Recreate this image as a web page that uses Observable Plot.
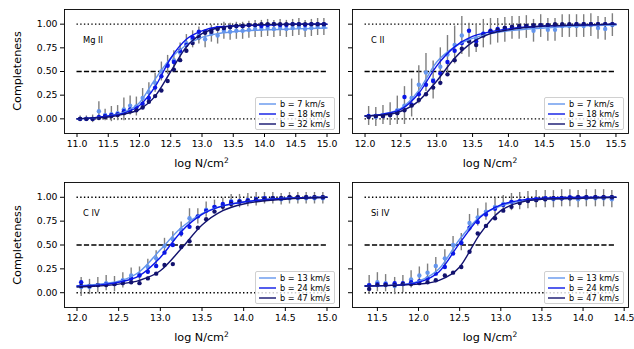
<!DOCTYPE html>
<html><head><meta charset="utf-8">
<script src="https://cdn.jsdelivr.net/npm/d3@7"></script>
<script src="https://cdn.jsdelivr.net/npm/@observablehq/plot@0.6"></script>
<style>
body{margin:0;background:#fff;}
#wrap{position:relative;width:634px;height:349px;font-family:"DejaVu Sans",sans-serif;color:#000;overflow:hidden;}
.pl{position:absolute;}
.lab{position:absolute;font-size:11.2px;white-space:nowrap;transform:translate(-50%,-50%);}
.ylab{position:absolute;font-size:11.2px;white-space:nowrap;transform:translate(-50%,-50%) rotate(-90deg);}
.ion{position:absolute;font-size:8.3px;white-space:nowrap;transform:translateY(-50%);}
.leg{position:absolute;width:80px;height:33px;border:1px solid #d0d0d0;border-radius:2px;background:rgba(255,255,255,0.8);box-sizing:border-box;}
.row{position:absolute;left:0;height:10px;width:100%;font-size:8.2px;line-height:10px;}
.row svg{position:absolute;left:3px;top:0;}
.row span{position:absolute;left:24px;top:0;}
</style>
</head><body>
<div id="wrap"></div>
<script>
// ---------- data ----------
const ionNames = ["Mg II", "C II", "C IV", "Si IV"];
const bMgII = ["b = 7 km/s", "b = 18 km/s", "b = 32 km/s"];
const bCII  = ["b = 7 km/s", "b = 18 km/s", "b = 32 km/s"];
const bCIV  = ["b = 13 km/s", "b = 24 km/s", "b = 47 km/s"];
const bSiIV = ["b = 13 km/s", "b = 24 km/s", "b = 47 km/s"];

const yTicks = [0, 0.25, 0.5, 0.75, 1.0];
const xTicksMgII = [11.0, 11.5, 12.0, 12.5, 13.0, 13.5, 14.0, 14.5, 15.0];
const xTicksCII  = [12.0, 12.5, 13.0, 13.5, 14.0, 14.5, 15.0, 15.5];
const xTicksCIV  = [12.0, 12.5, 13.0, 13.5, 14.0, 14.5, 15.0];
const xTicksSiIV = [11.5, 12.0, 12.5, 13.0, 13.5, 14.0, 14.5];

// reference line spans (log N)
const spanMgII = [11.0, 15.0];
const spanCII  = [12.0, 15.5];
const spanCIV  = [12.0, 15.0];
const spanSiIV = [11.35, 14.4];

// Mg II
const xMgII = [11.05,11.15,11.25,11.35,11.45,11.55,11.65,11.75,11.85,11.95,12.05,12.15,12.25,12.35,12.45,12.55,12.65,12.75,12.85,12.95,13.05,13.15,13.25,13.35,13.45,13.55,13.65,13.75,13.85,13.95,14.05,14.15,14.25,14.35,14.45,14.55,14.65,14.75,14.85,14.95];
const mg_b7  = [0.00,0.00,0.00,0.08,0.04,0.05,0.06,0.10,0.14,0.13,0.22,0.28,0.38,0.50,0.57,0.62,0.70,0.80,0.84,0.88,0.84,0.90,0.88,0.93,0.92,0.93,0.93,0.94,0.95,0.95,0.96,0.95,0.96,0.95,0.96,0.97,0.95,0.96,0.97,0.97];
const mg_b18 = [0.00,0.00,0.00,0.02,0.03,0.04,0.05,0.08,0.10,0.12,0.16,0.22,0.33,0.45,0.56,0.60,0.72,0.78,0.86,0.92,0.92,0.94,0.96,0.96,0.97,0.98,0.98,0.99,0.99,0.98,0.99,1.00,0.99,0.99,1.00,1.00,0.99,1.00,1.00,1.00];
const mg_b32 = [0.00,0.00,0.00,0.01,0.02,0.03,0.04,0.06,0.08,0.09,0.12,0.18,0.24,0.30,0.40,0.52,0.62,0.72,0.80,0.86,0.91,0.92,0.95,0.96,0.97,0.98,0.98,0.99,0.99,1.00,1.00,1.00,1.00,1.00,1.00,1.00,1.00,1.00,1.00,1.00];
const mg_err = [0.03,0.03,0.04,0.10,0.06,0.08,0.08,0.12,0.10,0.10,0.10,0.10,0.10,0.10,0.10,0.10,0.10,0.09,0.09,0.09,0.09,0.09,0.09,0.09,0.09,0.09,0.09,0.09,0.09,0.09,0.09,0.09,0.09,0.09,0.09,0.09,0.09,0.09,0.09,0.09];
const fitXMgII = [11.0,11.25,11.5,11.75,12.0,12.25,12.5,12.75,13.0,13.25,13.5,14.0,14.5,15.0];
const fitMg_b7  = [0.00,0.01,0.03,0.07,0.17,0.42,0.64,0.78,0.86,0.90,0.92,0.94,0.95,0.96];
const fitMg_b18 = [0.00,0.01,0.03,0.06,0.14,0.34,0.64,0.84,0.93,0.97,0.98,0.99,1.00,1.00];
const fitMg_b32 = [0.00,0.01,0.02,0.05,0.10,0.24,0.50,0.76,0.90,0.96,0.98,0.995,1.00,1.00];

// C II
const xCII = [12.05,12.15,12.25,12.35,12.45,12.55,12.65,12.75,12.85,12.95,13.05,13.15,13.25,13.35,13.45,13.55,13.65,13.75,13.85,13.95,14.05,14.15,14.25,14.35,14.45,14.55,14.65,14.75,14.85,14.95,15.05,15.15,15.25,15.35,15.45];
const c2_b7  = [0.03,0.02,0.04,0.05,0.09,0.14,0.22,0.36,0.49,0.41,0.55,0.68,0.78,0.88,0.83,0.85,0.90,0.92,0.93,0.94,0.96,0.96,0.97,0.93,0.98,0.94,0.94,0.98,0.98,0.98,0.98,0.99,0.96,0.95,0.99];
const c2_b18 = [0.03,0.03,0.03,0.04,0.08,0.23,0.15,0.26,0.36,0.40,0.48,0.60,0.72,0.80,0.93,0.82,0.90,0.93,0.95,0.96,0.97,0.97,0.98,0.98,0.99,0.99,0.99,0.99,0.99,1.00,1.00,1.00,1.00,1.00,1.00];
const c2_b32 = [0.02,0.03,0.03,0.04,0.06,0.09,0.14,0.20,0.26,0.33,0.38,0.47,0.62,0.74,0.82,0.78,0.88,0.92,0.94,0.96,0.97,0.98,0.98,0.99,0.99,0.99,1.00,1.00,1.00,1.00,1.00,1.00,1.00,1.00,1.00];
const c2_err = [0.10,0.10,0.10,0.12,0.15,0.20,0.20,0.20,0.20,0.20,0.20,0.20,0.20,0.20,0.18,0.15,0.15,0.14,0.13,0.13,0.12,0.12,0.12,0.12,0.12,0.12,0.12,0.12,0.12,0.12,0.12,0.12,0.12,0.12,0.12];
const fitXCII = [12.0,12.25,12.5,12.75,13.0,13.25,13.5,13.75,14.0,14.5,15.0,15.5];
const fitC2_b7  = [0.03,0.05,0.11,0.30,0.60,0.76,0.85,0.90,0.93,0.96,0.98,0.99];
const fitC2_b18 = [0.03,0.05,0.10,0.27,0.56,0.76,0.87,0.92,0.95,0.98,0.99,1.00];
const fitC2_b32 = [0.03,0.04,0.08,0.19,0.40,0.64,0.81,0.90,0.94,0.98,0.99,1.00];

// C IV
const xCIV = [12.05,12.15,12.25,12.35,12.45,12.55,12.65,12.75,12.85,12.95,13.05,13.15,13.25,13.35,13.45,13.55,13.65,13.75,13.85,13.95,14.05,14.15,14.25,14.35,14.45,14.55,14.65,14.75,14.85,14.95];
const c4_b13 = [0.06,0.06,0.08,0.10,0.09,0.13,0.18,0.19,0.27,0.36,0.49,0.56,0.66,0.78,0.80,0.87,0.90,0.92,0.96,0.96,0.97,0.98,0.99,0.99,0.98,0.99,0.99,0.99,0.99,0.99];
const c4_b24 = [0.11,0.07,0.08,0.09,0.09,0.12,0.15,0.18,0.22,0.28,0.42,0.50,0.62,0.69,0.80,0.86,0.90,0.93,0.95,0.96,0.97,0.98,0.99,0.99,0.99,1.00,1.00,1.00,1.00,1.00];
const c4_b47 = [0.07,0.07,0.08,0.08,0.09,0.10,0.11,0.10,0.15,0.20,0.29,0.30,0.48,0.54,0.68,0.77,0.85,0.90,0.93,0.95,0.96,0.97,0.98,0.99,0.99,1.00,1.00,1.00,1.00,1.00];
const c4_err = [0.10,0.08,0.08,0.08,0.08,0.08,0.08,0.08,0.08,0.08,0.08,0.08,0.08,0.10,0.08,0.08,0.07,0.07,0.07,0.07,0.07,0.07,0.06,0.06,0.06,0.06,0.06,0.06,0.06,0.06];
const fitXCIV = [12.0,12.25,12.5,12.75,13.0,13.25,13.5,13.75,14.0,14.5,15.0];
const fitC4_b13 = [0.07,0.09,0.12,0.22,0.45,0.68,0.83,0.91,0.95,0.99,1.00];
const fitC4_b24 = [0.07,0.08,0.11,0.18,0.37,0.64,0.82,0.91,0.95,0.99,1.00];
const fitC4_b47 = [0.06,0.07,0.09,0.13,0.23,0.46,0.71,0.86,0.93,0.98,1.00];

// Si IV
const xSiIV = [11.40,11.50,11.60,11.71,11.81,11.91,12.01,12.11,12.21,12.32,12.42,12.52,12.62,12.72,12.82,12.93,13.03,13.13,13.23,13.33,13.43,13.54,13.64,13.74,13.84,13.94,14.04,14.15,14.25,14.35];
const si_b13 = [0.08,0.11,0.10,0.07,0.09,0.14,0.18,0.21,0.28,0.36,0.50,0.53,0.73,0.79,0.85,0.90,0.93,0.95,0.96,0.97,0.98,0.98,0.98,0.99,0.99,0.98,0.99,0.99,0.99,0.98];
const si_b24 = [0.08,0.09,0.09,0.10,0.10,0.11,0.12,0.15,0.20,0.27,0.41,0.52,0.68,0.74,0.82,0.88,0.92,0.95,0.96,0.97,0.98,0.99,0.99,0.99,1.00,1.00,1.00,1.00,1.00,1.00];
const si_b47 = [0.04,0.08,0.08,0.08,0.09,0.09,0.10,0.11,0.13,0.18,0.21,0.27,0.43,0.62,0.70,0.78,0.86,0.90,0.94,0.96,0.97,0.98,0.99,0.99,0.99,1.00,1.00,1.00,1.00,1.00];
const si_err = [0.10,0.10,0.09,0.09,0.09,0.09,0.09,0.09,0.09,0.09,0.09,0.09,0.09,0.09,0.09,0.09,0.09,0.09,0.09,0.09,0.09,0.09,0.09,0.09,0.09,0.09,0.09,0.09,0.09,0.09];
const fitXSiIV = [11.35,11.75,12.0,12.25,12.5,12.75,13.0,13.25,13.5,14.0,14.4];
const fitSi_b13 = [0.07,0.08,0.12,0.25,0.56,0.80,0.91,0.96,0.98,0.99,1.00];
const fitSi_b24 = [0.07,0.08,0.11,0.22,0.52,0.79,0.92,0.97,0.99,1.00,1.00];
const fitSi_b47 = [0.07,0.08,0.09,0.13,0.27,0.62,0.86,0.95,0.98,0.99,1.00];

// ---------- style / layout ----------
const colors = ["#6495ed", "#0b17e6", "#12126e"];
const layouts = [
  {left: 0,   top: 0,   w: 345, h: 175, ml: 64, mr: 6, mt: 9, mb: 42, xd: [10.8, 15.2], ylab: true},
  {left: 300, top: 0,   w: 334, h: 175, ml: 52, mr: 6, mt: 9, mb: 42, xd: [11.825, 15.675], ylab: false},
  {left: 0,   top: 173, w: 345, h: 176, ml: 64, mr: 6, mt: 9, mb: 42, xd: [11.85, 15.15], ylab: true},
  {left: 300, top: 173, w: 334, h: 176, ml: 52, mr: 6, mt: 9, mb: 42, xd: [11.1975, 14.5525], ylab: false}
];
const panels = [
  {x: xMgII, ys: [mg_b7, mg_b18, mg_b32], err: mg_err, fitX: fitXMgII, fits: [fitMg_b7, fitMg_b18, fitMg_b32], span: spanMgII, ticks: xTicksMgII, legend: bMgII},
  {x: xCII, ys: [c2_b7, c2_b18, c2_b32], err: c2_err, fitX: fitXCII, fits: [fitC2_b7, fitC2_b18, fitC2_b32], span: spanCII, ticks: xTicksCII, legend: bCII},
  {x: xCIV, ys: [c4_b13, c4_b24, c4_b47], err: c4_err, fitX: fitXCIV, fits: [fitC4_b13, fitC4_b24, fitC4_b47], span: spanCIV, ticks: xTicksCIV, legend: bCIV},
  {x: xSiIV, ys: [si_b13, si_b24, si_b47], err: si_err, fitX: fitXSiIV, fits: [fitSi_b13, fitSi_b24, fitSi_b47], span: spanSiIV, ticks: xTicksSiIV, legend: bSiIV}
];

const wrap = document.getElementById("wrap");

panels.forEach((d, p) => {
  const L = layouts[p];
  const marks = [
    Plot.ruleY([0, 1], {x1: d.span[0], x2: d.span[1], stroke: "black", strokeWidth: 1.4, strokeDasharray: "1.4,2.3"}),
    Plot.ruleY([0.5], {x1: d.span[0], x2: d.span[1], stroke: "black", strokeWidth: 1.4, strokeDasharray: "5.2,2.2"})
  ];
  const bars = d.x.map((x, i) => ({x, lo: d.ys[0][i] - d.err[i], hi: d.ys[0][i] + d.err[i]}));
  marks.push(Plot.ruleX(bars, {x: "x", y1: "lo", y2: "hi", stroke: "#7f7f7f", strokeWidth: 1.4}));
  d.ys.forEach((ys, s) => {
    marks.push(Plot.dot(d.x.map((x, i) => ({x, y: ys[i]})), {x: "x", y: "y", r: 2.2, fill: colors[s]}));
  });
  d.fits.forEach((f, s) => {
    marks.push(Plot.line(d.fitX.map((x, i) => ({x, y: f[i]})), {x: "x", y: "y", stroke: colors[s], strokeWidth: 1.4, curve: "monotone-x"}));
  });
  marks.push(Plot.frame({stroke: "black", strokeWidth: 0.9}));

  const svg = Plot.plot({
    width: L.w, height: L.h,
    marginLeft: L.ml, marginRight: L.mr, marginTop: L.mt, marginBottom: L.mb,
    style: {fontFamily: "DejaVu Sans", fontSize: "9.3px", color: "black", background: "transparent", overflow: "visible"},
    x: {domain: L.xd, ticks: d.ticks, tickFormat: d3.format(".1f"), tickSize: 4, tickPadding: 3, label: null},
    y: {domain: [-0.155, 1.155], ticks: yTicks, tickFormat: L.ylab ? d3.format(".2f") : () => "", tickSize: 4, tickPadding: 3, label: null},
    marks
  });
  svg.classList.add("pl");
  svg.style.left = L.left + "px";
  svg.style.top = L.top + "px";
  wrap.appendChild(svg);

  const fl = L.left + L.ml, fr = L.left + L.w - L.mr, ft = L.top + L.mt, fb = L.top + L.h - L.mb;

  // ion name
  const ion = document.createElement("div");
  ion.className = "ion";
  ion.textContent = ionNames[p];
  ion.style.left = (fl + 19) + "px";
  ion.style.top = (ft + 31) + "px";
  wrap.appendChild(ion);

  // x label
  const xl = document.createElement("div");
  xl.className = "lab";
  xl.innerHTML = "log N/cm<sup style=\"font-size:7.5px;\">2</sup>";
  xl.style.left = ((fl + fr) / 2) + "px";
  xl.style.top = (fb + 30) + "px";
  wrap.appendChild(xl);

  // y label
  if (L.ylab) {
    const yl = document.createElement("div");
    yl.className = "ylab";
    yl.textContent = "Completeness";
    yl.style.left = "17px";
    yl.style.top = ((ft + fb) / 2) + "px";
    wrap.appendChild(yl);
  }

  // legend
  const leg = document.createElement("div");
  leg.className = "leg";
  leg.style.left = (fr - 4 - 80) + "px";
  leg.style.top = (fb - 3 - 33) + "px";
  d.legend.forEach((t, s) => {
    const row = document.createElement("div");
    row.className = "row";
    row.style.top = (1 + s * 10) + "px";
    row.innerHTML = `<svg width="18" height="10"><line x1="0" x2="17" y1="5" y2="5" stroke="${colors[s]}" stroke-width="1.4"/></svg><span>${t}</span>`;
    leg.appendChild(row);
  });
  wrap.appendChild(leg);
});
</script>
</body></html>
